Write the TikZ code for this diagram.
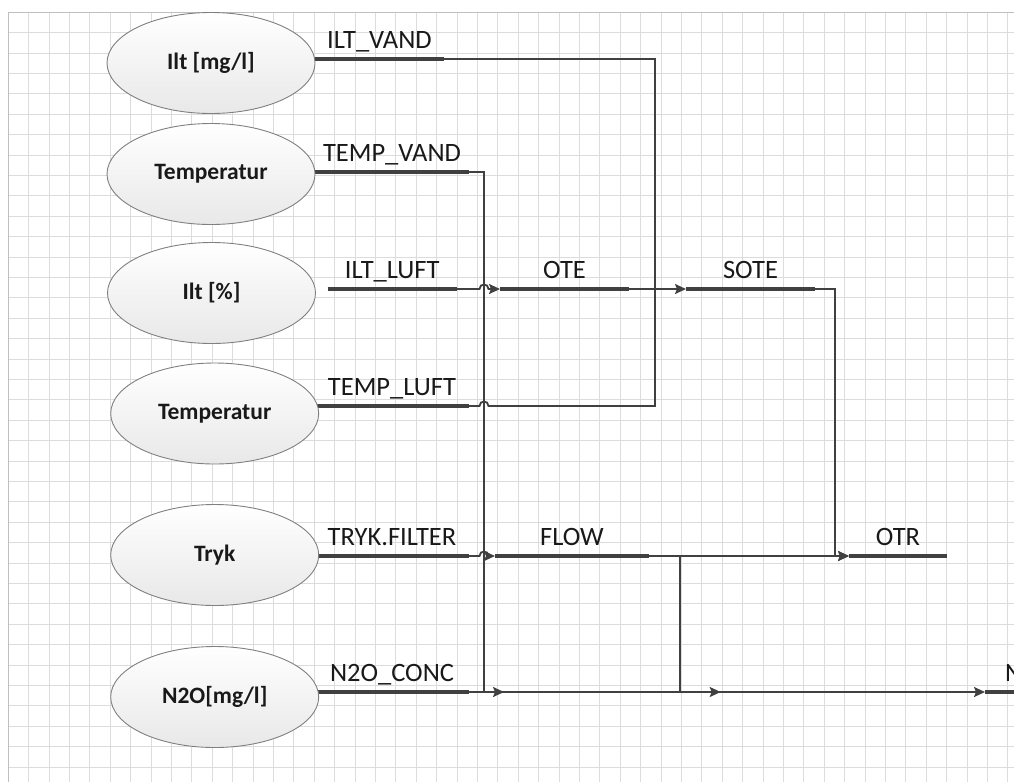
\documentclass[tikz,border=0pt]{standalone}
\usepackage{fontspec}
\setmainfont{Carlito}
\usetikzlibrary{arrows.meta,shapes.geometric,calc}
\definecolor{ln}{HTML}{404040}
\definecolor{gridc}{HTML}{DCDCDC}
\tikzset{
  gridl/.style={draw=gridc,line width=0.9pt},
  sensor/.style={ellipse,draw=black!50,line width=0.9pt,top color=white,bottom color=black!9,minimum width=208pt,minimum height=101pt,inner sep=0pt,font=\fontsize{23.5}{28}\selectfont\bfseries,text=black!90},
  sigline/.style={draw=ln,line width=4.2pt},
  conn/.style={draw=ln,line width=1.8pt},
  arr/.style={-{Stealth[length=11pt,width=10pt,inset=2pt]}},
  lbl/.style={font=\fontsize{26.5}{31}\selectfont,text=black!90,inner sep=0pt,anchor=base}
}
% #1 name, #2 x-left, #3 x-right, #4 y, #5 label
\newcommand\signal[5]{%
  \coordinate (#1w) at (#2,#4);
  \coordinate (#1e) at (#3,#4);
  \draw[sigline] (#1w) -- (#1e);
  \node[lbl] (#1) at ($(#1w)!0.5!(#1e)+(0,-11)$) {#5};
}
\begin{document}
\begin{tikzpicture}[x=1pt,y=-1pt]
\useasboundingbox (0,0) rectangle (1014,782);
\clip (0,0) rectangle (1014,782);
\fill[white] (0,0) rectangle (1014,782);
% grid
\foreach \i in {0,...,49} \draw[gridl] ({8.3+20.4*\i},12.3) -- ({8.3+20.4*\i},782);
\foreach \j in {0,...,38} \draw[gridl] (8.3,{12.3+20.4*\j}) -- (1014,{12.3+20.4*\j});
\draw[draw=black!25,line width=1pt] (8.3,782) -- (8.3,12.3) -- (1014,12.3);

% signals
\signal{iltvand}{315}{444}{59}{ILT\_VAND}
\signal{tempvand}{315}{469}{172}{TEMP\_VAND}
\signal{iltluft}{327.7}{456.7}{289}{ILT\_LUFT}
\signal{templuft}{315}{469}{406}{TEMP\_LUFT}
\signal{tryk}{315}{469}{556}{TRYK.FILTER}
\signal{ntoconc}{315}{469}{692}{N2O\_CONC}
\signal{ote}{500}{629}{289}{OTE}
\signal{sote}{686}{815}{289}{SOTE}
\signal{flow}{495}{649}{556}{FLOW}
\signal{otr}{849}{947}{556}{OTR}
\coordinate (nw) at (985,692);
\coordinate (ne) at (1030,692);
\draw[sigline] (nw) -- (ne);
\node[lbl,anchor=base west] (nlbl) at (1005,681) {N};

% connectors
\coordinate (vx) at (484.3,0);
\coordinate (ox) at (655,0);
\coordinate (sx) at (835,0);
\coordinate (fx) at (680,0);
% TEMP_VAND down to N2O line
\draw[conn,arr] (tempvande) -- (tempvande -| vx) -- (ntoconce -| vx) -- (504,692);
% ILT_LUFT -> OTE with jump
\draw[conn,arr] (iltlufte) -- (479.5,289) .. controls (479.5,283) and (488.5,283) .. (488.5,289) -- (otew);
% TEMP_LUFT <-> ILT_VAND loop with jump
\draw[conn] (templufte) -- (479.5,406) .. controls (479.5,400) and (488.5,400) .. (488.5,406) -- (templufte -| ox) -- (iltvande -| ox) -- (iltvande);
% TRYK -> FLOW with jump
\draw[conn,arr] (tryke) -- (479.5,556) .. controls (479.5,550) and (488.5,550) .. (488.5,556) -- (floww);
% OTE -> SOTE
\draw[conn,arr] (otee) -- (sotew);
% SOTE -> OTR
\draw[conn,arr] (sotee) -- (sotee -| sx) -- (otrw -| sx) -- (otrw);
% FLOW -> OTR
\draw[conn,arr] (flowe) -- (otrw);
% FLOW branch down
\draw[conn,arr] (flowe -| fx) -- (ntoconce -| fx) -- (720.7,692);
% N2O line
\draw[conn,arr] (ntoconce) -- (nw);

% sensors
\node[sensor] (s1) at (211,63) {Ilt [mg/l]};
\node[sensor] (s2) at (211,174) {Temperatur};
\node[sensor] (s3) at (211.5,293) {Ilt [\%]};
\node[sensor] (s4) at (214.7,413.5) {Temperatur};
\node[sensor] (s5) at (214.7,555) {Tryk};
\node[sensor] (s6) at (214.7,697) {N2O[mg/l]};
\end{tikzpicture}
\end{document}
